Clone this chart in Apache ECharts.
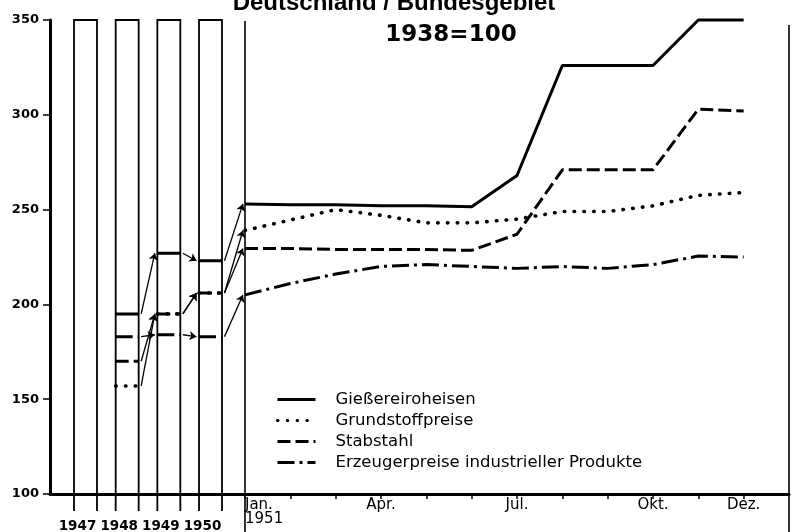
<!DOCTYPE html>
<html><head><meta charset="utf-8">
<script src="https://cdn.jsdelivr.net/npm/echarts@6/dist/echarts.min.js"></script>
<style>html,body{margin:0;padding:0;background:#fff}#c{width:792px;height:532px}</style>
</head><body><div id="c"></div>
<script>
// ---- data ----
const yearLabels = ['1947', '1948', '1949', '1950'];
const yearPos = [1947, 1948, 1949, 1950];
const giessYear = [null, 195, 227, 223];
const grundYear = [null, 157, 195, 206];
const stabYear = [null, 170, 195, 206];
const erzYear = [null, 183, 184, 183];

const monthLabels = ['Jan.\n1951', '', '', 'Apr.', '', '', 'Jul.', '', '', 'Okt.', '', 'Dez.'];
const giess = [253, 252.5, 252.5, 252, 252, 251.5, 268, 326, 326, 326, 350, 350];
const grund = [239, 244.5, 250, 247, 243, 243, 245, 249, 249, 252, 257.5, 259];
const stab = [229.5, 229.5, 229, 229, 229, 228.5, 237, 271, 271, 271, 303, 302];
const erz = [205, 211, 216, 220, 221, 220, 219, 220, 219, 221, 225.5, 225];

const seriesNames = ['Gießereiroheisen', 'Grundstoffpreise', 'Stabstahl', 'Erzeugerpreise industrieller Produkte'];
const titleMain = 'Deutschland / Bundesgebiet';
const titleSub = '1938=100';

// ---- styles / layout ----
const yMin = 100, yMax = 350;
const xLeftMin = 1946.148, xLeftMax = 1950.828;
const colHalf = 0.276, arrowGap = 0.06;
const lineStyles = [
  { type: 'solid', width: 3, color: '#000' },
  { type: [0.5, 9.3], width: 3.6, cap: 'round', color: '#000' },
  { type: [13, 5], width: 3, color: '#000' },
  { type: [17, 5, 3, 5], width: 3, color: '#000' }
];
const yearVals = [giessYear, grundYear, stabYear, erzYear];
const monthVals = [giess, grund, stab, erz];

function segData(vals) {
  const d = [];
  vals.forEach((v, i) => {
    if (v == null) return;
    d.push([yearPos[i] - colHalf, v], [yearPos[i] + colHalf, v], [yearPos[i] + 0.5, '-']);
  });
  return d;
}
function arrowData() {
  const d = [];
  yearVals.forEach((vals, k) => {
    for (let i = 1; i <= vals.length; i++) {
      const a = vals[i - 1];
      const b = i < vals.length ? vals[i] : monthVals[k][0];
      if (a == null || b == null) continue;
      const x1 = yearPos[i - 1] + colHalf + arrowGap;
      const x2 = i < vals.length ? yearPos[i] - colHalf - arrowGap : xLeftMax - 0.05;
      d.push({ coords: [[x1, a], [x2, b]] });
    }
  });
  return d;
}

const chart = echarts.init(document.getElementById('c'), null, { renderer: 'canvas' });
const series = [];
series.push({
  type: 'custom', xAxisIndex: 0, yAxisIndex: 0, z: 1,
  data: yearPos.map((p, i) => [p, i]),
  renderItem: function (params, api) {
    const x = api.value(0), i = api.value(1);
    const tl = api.coord([x - colHalf, yMax]);
    const br = api.coord([x + colHalf, yMin]);
    return {
      type: 'group', children: [
        { type: 'polyline', shape: { points: [[tl[0], br[1] + 17], [tl[0], tl[1]], [br[0], tl[1]], [br[0], br[1] + 17]] },
          style: { stroke: '#000', fill: null, lineWidth: 1.8 } },
        { type: 'text', style: { text: yearLabels[i], x: (tl[0] + br[0]) / 2 - 8, y: br[1] + 32,
          align: 'center', textAlign: 'center', verticalAlign: 'middle', textVerticalAlign: 'middle',
          font: 'bold 13.5px "DejaVu Sans"', fill: '#000' } }
      ]
    };
  }
});
yearVals.forEach((vals, k) => {
  series.push({ type: 'line', name: 'L' + k, xAxisIndex: 0, yAxisIndex: 0, symbol: 'none',
    connectNulls: false, clip: false, lineStyle: lineStyles[k], data: segData(vals), z: 3 });
});
series.push({
  type: 'lines', coordinateSystem: 'cartesian2d', xAxisIndex: 0, yAxisIndex: 0,
  symbol: ['none', 'arrow'], symbolSize: 7, z: 3,
  lineStyle: { color: '#000', width: 1.3, opacity: 1, curveness: 0 },
  data: arrowData()
});
monthVals.forEach((vals, k) => {
  series.push({ type: 'line', name: seriesNames[k], xAxisIndex: 1, yAxisIndex: 1, symbol: 'none',
    clip: false, lineStyle: lineStyles[k], itemStyle: { color: '#000' },
    data: vals.map((v, i) => [i, v]), z: 3 });
});
series.push({
  type: 'custom', xAxisIndex: 1, yAxisIndex: 1, z: 1,
  data: [[0], [12]],
  renderItem: function (params, api) {
    const x = api.value(0);
    const t = api.coord([x, yMax]);
    return { type: 'line', shape: { x1: t[0], y1: t[1] + (x > 0 ? 5 : 1), x2: t[0], y2: api.getHeight() },
      style: { stroke: '#000', lineWidth: 1.6 } };
  }
});

chart.setOption({
  animation: false,
  backgroundColor: '#fff',
  graphic: [
    { type: 'text', x: 394, y: 3, style: { text: titleMain, font: 'bold 24px "Liberation Sans"', fill: '#000',
      align: 'center', textAlign: 'center', verticalAlign: 'middle', textVerticalAlign: 'middle' } },
    { type: 'text', x: 451, y: 35, style: { text: titleSub, font: 'bold 23px "DejaVu Sans"', fill: '#000',
      align: 'center', textAlign: 'center', verticalAlign: 'middle', textVerticalAlign: 'middle' } }
  ],
  legend: {
    orient: 'vertical', left: 271, top: 386, itemWidth: 38, itemHeight: 14, itemGap: 4,
    data: seriesNames, selectedMode: false,
    itemStyle: { opacity: 0 },
    lineStyle: { width: 3 },
    textStyle: { fontFamily: 'DejaVu Sans', fontSize: 16.5, color: '#000', lineHeight: 16.5, padding: [0, 0, 0, 15] }
  },
  grid: [
    { left: 50, top: 20, width: 195, bottom: 38 },
    { left: 245, top: 20, right: 3, bottom: 38 }
  ],
  xAxis: [
    { type: 'value', gridIndex: 0, min: xLeftMin, max: xLeftMax,
      axisLine: { lineStyle: { color: '#000', width: 3 } }, axisTick: { show: false }, axisLabel: { show: false },
      splitLine: { show: false } },
    { type: 'value', gridIndex: 1, min: 0, max: 12, interval: 1,
      axisLine: { lineStyle: { color: '#000', width: 3 } },
      axisTick: { show: true, length: 5, lineStyle: { color: '#000', width: 1.5 } },
      axisLabel: { color: '#000', fontFamily: 'DejaVu Sans', fontSize: 15, lineHeight: 14, margin: 4,
        alignMinLabel: 'left', showMaxLabel: false,
        formatter: v => monthLabels[v] || '' },
      splitLine: { show: false } }
  ],
  yAxis: [
    { type: 'value', gridIndex: 0, min: yMin, max: yMax, interval: 50,
      axisLine: { show: true, lineStyle: { color: '#000', width: 3 } },
      axisTick: { show: true, length: 7, lineStyle: { color: '#000', width: 1.5 } },
      axisLabel: { color: '#000', fontFamily: 'DejaVu Sans', fontWeight: 'bold', fontSize: 13, margin: 11 },
      splitLine: { show: false } },
    { type: 'value', gridIndex: 1, min: yMin, max: yMax, interval: 50, show: false, splitLine: { show: false } }
  ],
  series: series
});
</script></body></html>
